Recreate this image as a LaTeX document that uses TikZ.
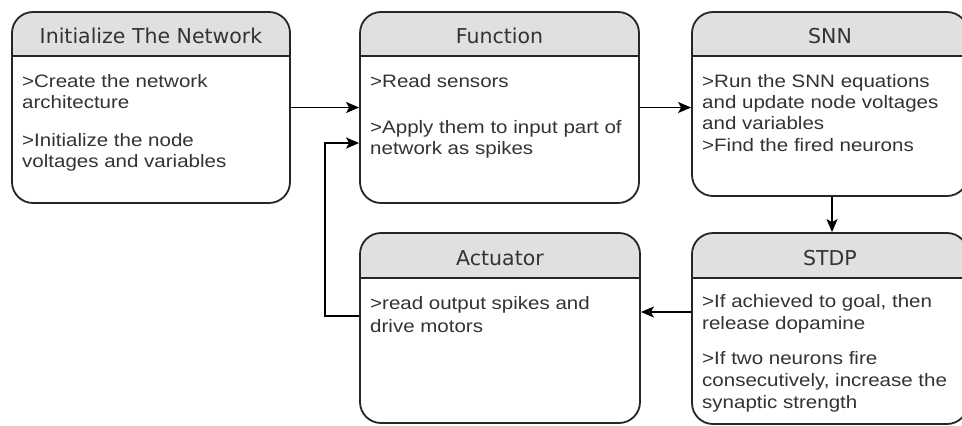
\documentclass[tikz,border=0pt]{standalone}
\usepackage{fontspec}
\setmainfont{Liberation Sans}[FakeStretch=1.14]
\newfontfamily\hdrfont{DejaVu Sans}
\usetikzlibrary{arrows.meta,fit}
\definecolor{hdrgray}{HTML}{E0E0E0}
\definecolor{txtgray}{HTML}{333333}
\definecolor{edgecol}{HTML}{262626}
\tikzset{
  frame/.style={draw=edgecol, line width=1.8pt, rounded corners=21pt, inner sep=0pt},
  divider/.style={draw=edgecol, line width=1.8pt},
  title/.style={font=\hdrfont\fontsize{20.5}{24}\selectfont, text=txtgray, inner sep=0pt, anchor=base},
  body/.style={text=txtgray, align=left, inner sep=0pt, anchor=base west},
  conn/.style={draw=black, line width=1.7pt, -{Stealth[length=13pt,width=11pt,inset=3pt]}}
}
\newcommand{\stbox}[6]{%
  \begin{scope}
    \clip[rounded corners=21pt] (#2,#3) rectangle (#4,#5);
    \fill[hdrgray] (#2,#3) rectangle (#4,#6);
  \end{scope}
  \draw[divider] (#2,#6) -- (#4,#6);
  \node[frame, fit={(#2,#3) (#4,#5)}] (#1) {};
}
\begin{document}
\begin{tikzpicture}[x=1pt,y=-1pt]
\useasboundingbox[fill=white] (0,0) rectangle (962,426);
\begin{scope}
\clip (0,0) rectangle (962,426);
\stbox{b1}{12}{12}{290}{203}{56}
\stbox{b2}{360}{12}{639}{203}{56}
\stbox{b3}{692}{12}{968}{196}{56}
\stbox{b4}{692}{233}{968}{424}{278}
\stbox{b5}{360}{233}{640}{423}{278}
\end{scope}

\node[title] (t1) at (151,43) {Initialize The Network};
\node[title] (t2) at (499.5,43) {Function};
\node[title] (t3) at (830,43) {SNN};
\node[title] (t4) at (830,265) {STDP};
\node[title] (t5) at (500,265) {Actuator};

% anchors are at the baseline of the last line
\node[body, font=\fontsize{18}{21}\selectfont] (x1) at (22,167) {>Create the network\\architecture\\[17pt]>Initialize the node\\voltages and variables};
\node[body, font=\fontsize{18}{21.5}\selectfont] (x2) at (370,154.5) {>Read sensors\\[24.5pt]>Apply them to input part of\\network as spikes};
\node[body, font=\fontsize{18}{21.3}\selectfont] (x3) at (702,151) {>Run the SNN equations\\and update node voltages\\and variables\\>Find the fired neurons};
\node[body, font=\fontsize{18}{22}\selectfont] (x4) at (702,408) {>If achieved to goal, then\\release dopamine\\[13pt]>If two neurons fire\\consecutively, increase the\\synaptic strength};
\node[body, font=\fontsize{18}{23}\selectfont] (x5) at (370,332) {>read output spikes and\\drive motors};

\coordinate (a3x) at (832,0);
\coordinate (a4y) at (0,312);
\coordinate (a5y) at (0,316);
\coordinate (lp) at (325,143);

\draw[conn] (b1.east) -- (b2.west);
\draw[conn] (b2.east) -- (b2.east -| b3.west);
\draw[conn] (b3.south -| a3x) -- (b4.north -| a3x);
\draw[conn] (b4.west |- a4y) -- (b5.east |- a4y);
\draw[conn] (b5.west |- a5y) -| (lp) -- (b2.west |- lp);
\end{tikzpicture}
\end{document}
